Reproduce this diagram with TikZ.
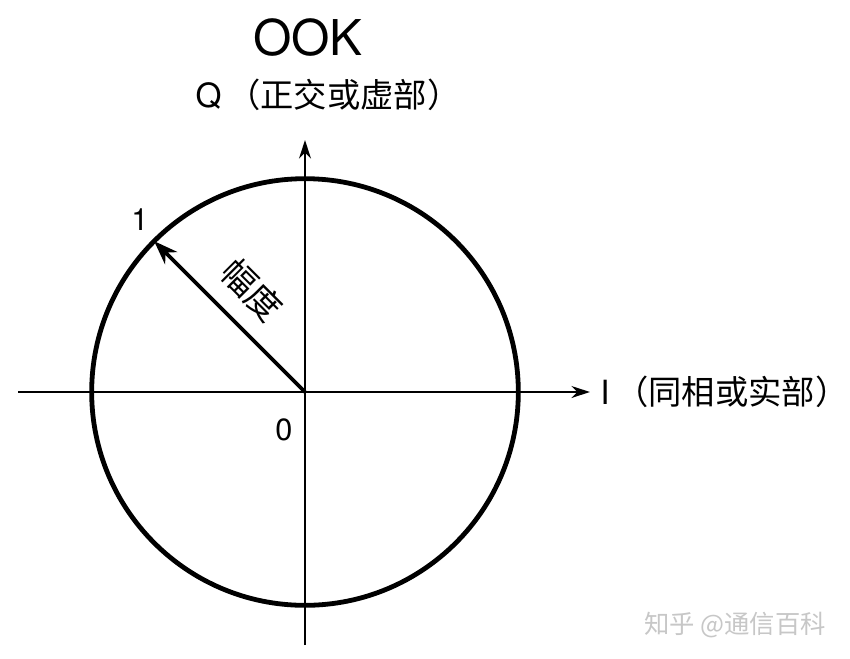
\documentclass[tikz,border=0pt]{standalone}
\usepackage{fontspec}
\setmainfont{TeX Gyre Heros}
\newfontfamily\cjk{Noto Sans CJK SC}
\usetikzlibrary{arrows.meta,calc}

\begin{document}
\begin{tikzpicture}[x=0.75pt,y=-0.75pt,>={Stealth[length=14pt,width=9pt]}]

    % white background, fixes the size
    \useasboundingbox[fill=white] (0,0) rectangle (850,658);

    \coordinate (O) at (305,392);

    % draw axes
    \coordinate (Iend) at (590,392);
    \coordinate (Istart) at (18,392);
    \coordinate (Qend) at (305,140);
    \coordinate (Qstart) at (305,645);
    \draw [->,line width=1.5pt] (Istart) -- (Iend);
    \draw [->,line width=1.5pt] (Qstart) -- (Qend);

    % unit circle
    \draw [line width=3.6pt] (O) circle [radius=160pt];

    % amplitude arrow
    \coordinate (P) at ($(O)+(135:160pt)$);
    \draw [->,line width=2.8pt,>={Stealth[length=18pt,width=13pt]}] (O) -- (P);

    % labels
    \node (title) at (308,38) {\fontsize{37}{37}\selectfont OOK};
    \node (qlab) at (328,95) {\fontsize{25}{25}\selectfont Q\,\cjk（正交或虚部）};
    \node [anchor=west,inner sep=0pt] (ilab) at (600,392) {\fontsize{25}{25}\selectfont I\,\cjk（同相或实部）};
    \node (one) at (140,220) {\fontsize{23}{23}\selectfont 1};
    \node (zero) at (284,430) {\fontsize{23}{23}\selectfont 0};
    \node [rotate=-45,inner sep=0pt] (amp) at (252,290) {\fontsize{26}{26}\selectfont\cjk 幅度};

    % watermark
    \node [text=black!22] (mark) at (735,625) {\fontsize{19}{19}\selectfont\cjk 知乎 @通信百科};

\end{tikzpicture}
\end{document}
